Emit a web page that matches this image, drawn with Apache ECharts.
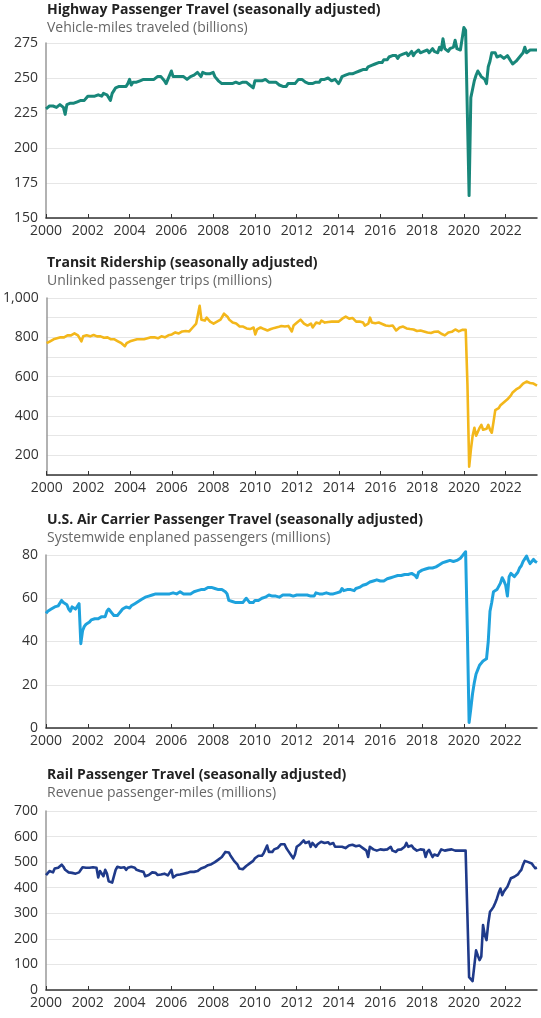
<!DOCTYPE html>
<html>
<head>
<meta charset="utf-8">
<style>
  html, body { margin: 0; padding: 0; background: #fff; }
  #chart { width: 541px; height: 1018px; }
</style>
<script src="https://cdn.jsdelivr.net/npm/echarts@6/dist/echarts.min.js"></script>
</head>
<body>
<div id="chart"></div>
<script>
  // monthly values, Jan 2000 .. Jul 2023
  var highway = [
    228, 229, 230, 229, 230, 230, 229, 230, 231, 230, 229, 224, // 2000
    231, 230, 232, 231, 232, 233, 233, 232, 234, 233, 234, 235, // 2001
    237, 236, 237, 238, 237, 236, 238, 238, 237, 239, 240, 238, // 2002
    238, 234, 239, 241, 243, 242, 244, 243, 244, 245, 244, 246, // 2003
    249, 245, 247, 248, 247, 248, 248, 247, 249, 248, 249, 249, // 2004
    249, 250, 249, 250, 251, 250, 251, 251, 248, 246, 249, 250, // 2005
    255, 251, 250, 251, 250, 251, 250, 251, 250, 249, 250, 251, // 2006
    250, 252, 252, 254, 253, 251, 254, 254, 253, 254, 253, 254, // 2007
    254, 251, 250, 248, 247, 246, 245, 246, 245, 246, 247, 246, // 2008
    246, 247, 247, 246, 247, 247, 248, 247, 246, 245, 244, 243, // 2009
    248, 247, 248, 249, 248, 249, 249, 248, 247, 248, 247, 246, // 2010
    247, 246, 245, 245, 244, 245, 244, 246, 245, 246, 247, 246, // 2011
    247, 249, 250, 249, 248, 247, 248, 246, 247, 246, 246, 247, // 2012
    246, 247, 249, 250, 249, 249, 250, 249, 248, 249, 249, 248, // 2013
    246, 248, 251, 251, 252, 252, 253, 252, 253, 253, 254, 255, // 2014
    255, 254, 256, 257, 256, 258, 257, 259, 258, 260, 259, 261, // 2015
    262, 261, 263, 264, 263, 265, 264, 266, 265, 266, 264, 266, // 2016
    265, 267, 266, 268, 266, 267, 269, 266, 268, 267, 270, 268, // 2017
    267, 269, 268, 270, 268, 269, 271, 269, 270, 268, 272, 270, // 2018
    278, 271, 272, 269, 271, 270, 272, 277, 271, 272, 270, 269, // 2019
    286, 284, 225, 166, 236, 242, 248, 252, 255, 253, 251, 252, // 2020
    249, 246, 258, 262, 268, 267, 268, 265, 264, 266, 265, 264, // 2021
    263, 266, 264, 262, 260, 261, 262, 263, 265, 266, 268, 272, // 2022
    268, 269, 270, 269, 270, 271, 270                           // 2023
  ]

  var transit = [
    770, 775, 780, 785, 790, 790, 795, 800, 800, 805, 800, 805,
    810, 815, 810, 815, 820, 815, 810, 805, 780, 805, 815, 810,
    810, 805, 808, 812, 806, 805, 802, 805, 800, 798, 795, 800,
    795, 790, 785, 790, 785, 780, 775, 770, 765, 755, 770, 775,
    780, 785, 785, 788, 790, 785, 790, 792, 790, 795, 795, 800,
    800, 805, 800, 798, 795, 802, 805, 810, 800, 805, 810, 815,
    815, 820, 825, 822, 820, 825, 830, 828, 832, 835, 830, 840,
    850, 860, 870, 880, 960, 890, 880, 885, 900, 890, 880, 885,
    870, 875, 880, 880, 890, 900, 920, 910, 905, 890, 880, 875,
    880, 870, 860, 855, 850, 855, 850, 845, 848, 842, 845, 850,
    815, 840, 845, 850, 840, 842, 838, 835, 840, 842, 845, 848,
    850, 852, 855, 858, 860, 855, 862, 858, 865, 830, 860, 870,
    875, 880, 890, 882, 870, 865, 860, 865, 870, 850, 860, 875,
    880, 870, 885, 880, 875, 880, 878, 882, 880, 885, 880, 885,
    880, 875, 895, 900, 905, 900, 895, 902, 898, 890, 880, 885,
    880, 870, 875, 860, 850, 870, 900, 875, 870, 872, 870, 875,
    870, 868, 865, 860, 862, 858, 855, 860, 850, 835, 845, 850,
    850, 855, 848, 845, 840, 842, 838, 840, 835, 832, 830, 835,
    835, 830, 828, 825, 830, 822, 820, 828, 825, 830, 822, 818,
    815, 810, 820, 825, 830, 828, 835, 840, 835, 830, 835, 838,
    840, 838, 560, 142, 230, 300, 340, 300, 290, 340, 355, 330,
    320, 335, 355, 330, 315, 370, 430, 425, 440, 455, 465, 470,
    475, 485, 490, 505, 520, 525, 535, 540, 545, 555, 565, 570,
    575, 570, 568, 572, 565, 560, 555
  ]

  var air = [
    53, 54, 54.5, 55, 55.5, 56, 55.5, 56.5, 57, 59, 58, 57.5,
    57, 55, 54, 56, 55.5, 55, 55.5, 57.5, 39, 45, 47, 48,
    48.5, 49, 50, 50, 50.5, 51, 50.5, 51, 51.5, 52, 51.5, 54,
    55, 54.5, 53, 52, 51.5, 52, 53, 54, 55, 55.5, 56, 56,
    55.5, 56.5, 57, 57.5, 58, 58.5, 59, 59.5, 60, 60.5, 60, 61,
    61, 61.5, 61.5, 62, 62, 62, 62.5, 62, 61.5, 62, 62, 62,
    62, 62.5, 62, 62, 62.5, 63, 62.5, 62, 61.5, 62, 61.5, 62,
    62.5, 63, 63.5, 63.5, 64, 64, 64.5, 64, 64.5, 65, 65.5, 65,
    64.5, 64.5, 64.5, 64, 64.5, 64, 63.5, 63, 62, 59, 58.5, 58.5,
    58.5, 58, 58.5, 58, 57.5, 58, 58.5, 60, 59, 58, 58.5, 58,
    59, 58.5, 59, 59.5, 60, 60.5, 60.5, 61, 61.5, 62, 61, 60.5,
    61, 60.5, 60.5, 61, 61.5, 61, 61.5, 61.5, 61.5, 61, 61, 61.5,
    61.5, 61.5, 61.5, 61, 61.5, 61.5, 61.5, 61, 61, 61.5, 61, 62.5,
    62, 62, 61.5, 62, 62, 62.5, 62, 62, 62.5, 62, 62.5, 62.5,
    62.5, 63, 64.5, 63.5, 63.5, 64, 63.5, 64, 64, 63.5, 64.5, 65,
    65, 65.5, 66, 66, 66.5, 67, 67.5, 67.5, 68, 68, 68.5, 68,
    68, 68.5, 68, 68.5, 69, 69, 69.5, 69.5, 70, 70, 70.5, 70,
    70.5, 70.5, 71, 70.5, 71, 71, 71.5, 71, 70.5, 69.5, 72, 72.5,
    73, 73, 73.5, 73.5, 74, 74, 74, 74.5, 74.5, 75, 75.5, 76,
    76.5, 76.5, 77, 77, 77.5, 77, 77, 77.5, 77.5, 78, 78.5, 79.5,
    80.5, 81.5, 45, 2.5, 9, 16, 21, 25, 27, 29, 30, 31,
    31.5, 32, 40, 54, 58, 63, 63.5, 64, 64, 67, 69.5, 68,
    66, 61, 70, 71.5, 71, 70, 70.5, 72, 74, 75, 77, 77,
    79.5, 77.5, 76, 77, 78, 77, 76.5
  ]

  var rail = [
    449, 455, 465, 470, 460, 475, 480, 478, 485, 490, 482, 470,
    468, 460, 455, 458, 452, 455, 450, 460, 470, 480, 485, 478,
    475, 478, 482, 480, 475, 478, 440, 465, 460, 445, 470, 455,
    425, 422, 420, 425, 470, 482, 480, 478, 482, 480, 470, 478,
    480, 482, 485, 478, 470, 475, 465, 460, 462, 445, 440, 450,
    455, 460, 465, 458, 450, 455, 452, 450, 455, 452, 448, 445,
    470, 440, 445, 450, 448, 452, 450, 455, 455, 458, 460, 462,
    460, 462, 458, 465, 470, 475, 478, 480, 485, 488, 490, 492,
    490, 500, 505, 510, 505, 520, 530, 540, 545, 538, 525, 515,
    505, 500, 490, 475, 470, 472, 478, 485, 490, 495, 500, 505,
    515, 510, 525, 530, 525, 535, 540, 565, 540, 545, 540, 550,
    550, 555, 560, 570, 575, 570, 555, 545, 540, 525, 515, 530,
    560, 555, 570, 565, 585, 575, 570, 580, 560, 575, 570, 560,
    570, 575, 580, 585, 575, 580, 578, 570, 565, 575, 560, 555,
    560, 555, 560, 558, 555, 560, 565, 570, 568, 570, 562, 560,
    565, 560, 555, 560, 545, 520, 560, 555, 550, 548, 545, 548,
    550, 545, 548, 552, 550, 555, 560, 545, 550, 540, 548, 552,
    550, 545, 560, 575, 560, 555, 565, 555, 548, 545, 540, 550,
    545, 548, 520, 540, 548, 545, 520, 530, 535, 525, 520, 550,
    548, 545, 550, 548, 552, 550, 548, 545, 550, 545, 540, 545,
    548, 545, 300, 50, 45, 35, 30, 155, 135, 117, 130, 254,
    215, 195, 260, 306, 315, 325, 340, 358, 380, 397, 371, 385,
    395, 404, 420, 437, 440, 443, 443, 452, 462, 470, 490, 505,
    508, 500, 505, 495, 485, 476, 478
  ]

  var yearTicks = [2000, 2002, 2004, 2006, 2008, 2010, 2012, 2014, 2016, 2018, 2020, 2022]

  var titles = [
    'Highway Passenger Travel (seasonally adjusted)',
    'Transit Ridership (seasonally adjusted)',
    'U.S. Air Carrier Passenger Travel (seasonally adjusted)',
    'Rail Passenger Travel (seasonally adjusted)'
  ]
  var subtitles = [
    'Vehicle-miles traveled (billions)',
    'Unlinked passenger trips (millions)',
    'Systemwide enplaned passengers (millions)',
    'Revenue passenger-miles (millions)'
  ]

  var FONT = '"Open Sans", "Noto Sans", sans-serif'
  var colors = ['#18877a', '#f3b71b', '#1ea2dd', '#1f3a8a']
  var lineWidths = [3, 2.6, 3, 2.6]
  var titleTops = [2, 255, 512, 767]
  var grids = [
    { left: 46, right: 4, top: 43, height: 175 },
    { left: 46, right: 4, top: 298, height: 177 },
    { left: 46, right: 4, top: 555, height: 173 },
    { left: 46, right: 4, top: 811, height: 179 }
  ]
  var yRanges = [
    { min: 150, max: 275, interval: 25 },
    { min: 100, max: 1000, interval: 100 },
    { min: 0, max: 80, interval: 20 },
    { min: 0, max: 700, interval: 100 }
  ]
  var seriesData = [highway, transit, air, rail]

  function toPoints(vals) {
    return vals.map(function (v, i) { return [2000 + i / 12, v] })
  }

  var chart = echarts.init(document.getElementById('chart'))
  var option = {
    backgroundColor: '#fff',
    animation: false,
    title: [],
    grid: grids,
    xAxis: [],
    yAxis: [],
    series: []
  }

  for (var k = 0; k < 4; k++) {
    option.title.push({
      text: titles[k],
      subtext: subtitles[k],
      left: 47,
      top: titleTops[k],
      padding: 0,
      itemGap: 2,
      textStyle: { fontFamily: FONT, fontSize: 14, fontWeight: 'bold', color: '#222', lineHeight: 16 },
      subtextStyle: { fontFamily: FONT, fontSize: 14, color: '#666', lineHeight: 16 }
    })
    option.xAxis.push({
      type: 'value',
      gridIndex: k,
      min: 2000,
      max: 2000 + (highway.length - 1) / 12,
      splitLine: { show: false },
      axisLine: { show: true, onZero: false, lineStyle: { color: '#333', width: 1.5 } },
      axisTick: { show: true, inside: true, length: 4, customValues: yearTicks, lineStyle: { color: '#333' } },
      axisLabel: {
        customValues: yearTicks,
        fontFamily: FONT,
        fontSize: 14,
        color: '#333',
        margin: 6,
        formatter: function (v) { return String(v) }
      }
    })
    var yr = yRanges[k]
    option.yAxis.push({
      type: 'value',
      gridIndex: k,
      min: yr.min,
      max: yr.max,
      interval: yr.interval,
      axisLine: { show: true, lineStyle: { color: '#999', width: 1.5 } },
      axisTick: { show: false },
      splitLine: { show: true, lineStyle: { color: '#e6e6e6', width: 1 } },
      axisLabel: {
        fontFamily: FONT,
        fontSize: 14,
        color: '#333',
        margin: 8,
        formatter: k === 1
          ? function (v) { return v % 200 === 0 ? v.toLocaleString('en-US') : '' }
          : function (v) { return String(v) }
      }
    })
    option.series.push({
      type: 'line',
      xAxisIndex: k,
      yAxisIndex: k,
      data: toPoints(seriesData[k]),
      showSymbol: false,
      clip: false,
      color: colors[k],
      lineStyle: { width: lineWidths[k], join: 'round' }
    })
  }

  chart.setOption(option)
</script>
</body>
</html>
